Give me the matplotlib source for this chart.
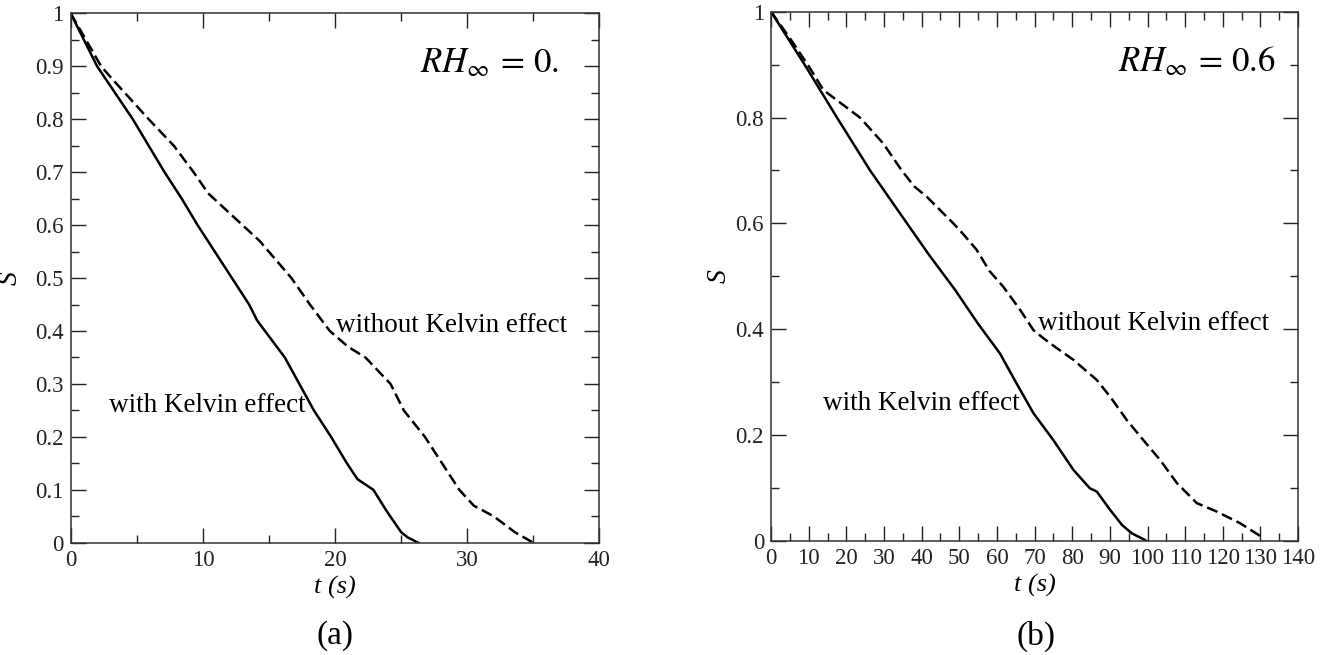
import numpy as np
import matplotlib.pyplot as plt
from matplotlib.ticker import MultipleLocator

plt.rcParams['font.family'] = ['Liberation Serif', 'DejaVu Serif']
plt.rcParams['mathtext.fontset'] = 'stix'

# (a) RH_inf = 0.
t_a_with = [0, 2.0, 4.7, 7.1, 8.4, 9.6, 10.9, 12.2, 13.5, 14.1, 14.7, 16.2, 17.3,
            18.4, 19.7, 20.9, 21.7, 22.9, 23.9, 25.0, 25.5, 26.3]
s_a_with = [1, 0.9, 0.8, 0.7, 0.65, 0.6, 0.55, 0.5, 0.45, 0.42, 0.4, 0.35, 0.3,
            0.25, 0.2, 0.15, 0.12, 0.1, 0.06, 0.02, 0.01, 0.0]
t_a_without = [0, 2.3, 3.0, 5.9, 7.8, 9.3, 10.4, 11.7, 13.0, 14.3, 16.7, 18.1, 19.6,
               21.0, 22.3, 24.2, 25.2, 26.8, 28.1, 29.4, 30.5, 32.0, 33.6, 35.0]
s_a_without = [1, 0.9, 0.88, 0.8, 0.75, 0.7, 0.66, 0.63, 0.6, 0.57, 0.5, 0.45, 0.4,
               0.37, 0.35, 0.3, 0.25, 0.2, 0.15, 0.1, 0.07, 0.05, 0.02, 0.0]

# (b) RH_inf = 0.6
t_b_with = [0, 9.0, 17.5, 26.3, 36.1, 42.0, 48.9, 55.0, 60.8, 65.0, 69.7, 75.0,
            80.3, 84.7, 86.5, 90.1, 93.2, 95.8, 98.9, 99.6]
s_b_with = [1, 0.899, 0.80, 0.70, 0.60, 0.54, 0.474, 0.41, 0.354, 0.30, 0.241, 0.19,
            0.134, 0.099, 0.093, 0.058, 0.030, 0.014, 0.003, 0.0]
t_b_without = [0, 5.0, 10.0, 13.9, 18.0, 23.6, 29.8, 34.7, 38.0, 41.4, 48.4, 51.0,
               54.6, 58.0, 61.7, 66.2, 69.7, 72.3, 75.9, 80.3, 86.5, 90.1, 94.5,
               98.9, 103.3, 107.8, 113.1, 118.4, 124.6, 130.8]
s_b_without = [1, 0.95, 0.897, 0.852, 0.83, 0.80, 0.751, 0.70, 0.67, 0.65, 0.60, 0.58,
               0.55, 0.51, 0.48, 0.436, 0.398, 0.383, 0.364, 0.342, 0.304, 0.272, 0.228,
               0.19, 0.153, 0.109, 0.071, 0.055, 0.033, 0.005]

fig = plt.figure(figsize=(13.34, 6.55), dpi=100)
ax1 = fig.add_axes([0.0530, 0.1714, 0.3963, 0.8082])
ax2 = fig.add_axes([0.5780, 0.1745, 0.3951, 0.8076])


def fmt(v):
    if abs(v) < 1e-9:
        return '0'
    if abs(v - 1) < 1e-9:
        return '1'
    return f'{v:.1f}'


def style_axes(ax, xmax, xmaj, ymaj, ylab_x):
    ax.set_xlim(0, xmax)
    ax.set_ylim(0, 1)
    ax.xaxis.set_major_locator(MultipleLocator(xmaj))
    ax.xaxis.set_minor_locator(MultipleLocator(xmaj / 2))
    ax.yaxis.set_major_locator(MultipleLocator(ymaj))
    ax.yaxis.set_minor_locator(MultipleLocator(ymaj / 2))
    ax.tick_params(which='both', direction='in', top=True, right=True,
                   labelsize=16.5, width=1.0, colors='#222222')
    ax.tick_params(which='major', length=11)
    ax.tick_params(which='minor', length=5.5)
    ax.tick_params(axis='x', which='major', pad=5)
    ax.tick_params(axis='y', which='major', pad=5)
    ax.set_yticks(ax.get_yticks())
    ax.set_yticklabels([fmt(v) for v in ax.get_yticks()])
    ax.set_ylim(0, 1)
    for sp in ax.spines.values():
        sp.set_linewidth(1.1)
        sp.set_color('#333333')
    ax.set_xlabel('t (s)', fontsize=19, style='italic', labelpad=4)
    ax.set_ylabel('S', fontsize=20, style='italic')
    ax.yaxis.set_label_coords(ylab_x, 0.5)


ax1.plot(t_a_with, s_a_with, color='black', lw=1.8)
ax1.plot(t_a_without, s_a_without, color='black', lw=1.8, dashes=(4.5, 2.0))
style_axes(ax1, 40, 10, 0.1, -0.090)
ax1.text(36.9, 0.905, r'$RH_{\infty}\,=\,0.$', fontsize=25, ha='right', va='center')
ax1.text(20.1, 0.411, 'without Kelvin effect', fontsize=19.5, ha='left', va='center')
ax1.text(2.9, 0.26, 'with Kelvin effect', fontsize=19.5, ha='left', va='center')

ax2.plot(t_b_with, s_b_with, color='black', lw=1.8)
ax2.plot(t_b_without, s_b_without, color='black', lw=1.8, dashes=(4.5, 2.0))
style_axes(ax2, 140, 10, 0.2, -0.075)
ax2.text(133.9, 0.905, r'$RH_{\infty}\,=\,0.6$', fontsize=25, ha='right', va='center')
ax2.text(71.0, 0.411, 'without Kelvin effect', fontsize=19.5, ha='left', va='center')
ax2.text(13.8, 0.26, 'with Kelvin effect', fontsize=19.5, ha='left', va='center')

fig.text(335 / 1334, 1 - 636 / 655, '(a)', fontsize=24, ha='center', va='center')
fig.text(1036 / 1334, 1 - 636 / 655, '(b)', fontsize=24, ha='center', va='center')

fig.savefig('out.png', dpi=100)
